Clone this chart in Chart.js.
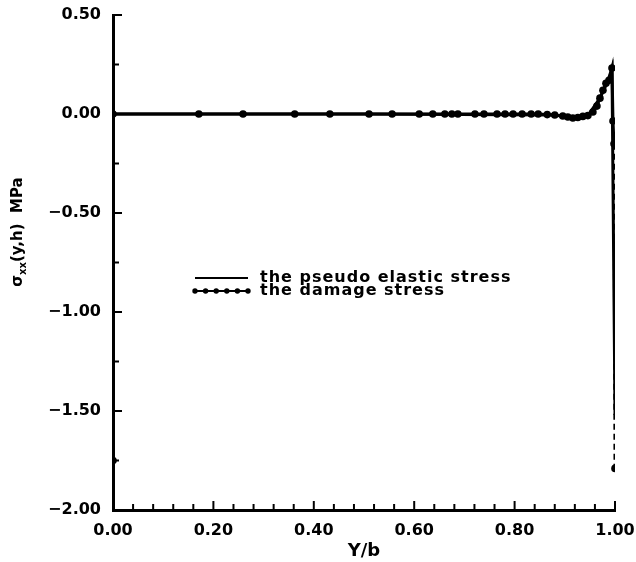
<!DOCTYPE html>
<html>
<head>
<meta charset="utf-8">
<script src="https://cdn.jsdelivr.net/npm/chart.js@4/dist/chart.umd.min.js"></script>
<style>
  html, body { margin: 0; padding: 0; background: #fff; }
  #wrap { width: 636px; height: 562px; }
</style>
</head>
<body>
<div id="wrap"><canvas id="stress-chart" width="636" height="562"></canvas></div>
<script>
// values
const elasticX = [0, 0.5, 0.88, 0.916, 0.946, 0.97, 0.985, 0.994, 1.0];
const elasticY = [0, 0, -0.005, -0.02, -0.008, 0.08, 0.16, 0.232, -1.52];

const damageX = [0, 0, 0.171, 0.259, 0.362, 0.432, 0.51, 0.556, 0.61, 0.637,
  0.661, 0.675, 0.687, 0.721, 0.739, 0.765, 0.781, 0.797, 0.815, 0.833,
  0.847, 0.865, 0.88, 0.896, 0.906, 0.916, 0.926, 0.936, 0.946, 0.956,
  0.964, 0.97, 0.976, 0.982, 0.988, 0.994, 0.996, 0.998, 1.0];
const damageY = [-1.75, 0, 0, 0, 0, 0, 0, 0, 0, 0,
  0, 0, 0, 0, 0, 0, 0, 0, 0, 0,
  0, -0.003, -0.005, -0.01, -0.015, -0.02, -0.018, -0.012, -0.008, 0.01,
  0.04, 0.08, 0.12, 0.155, 0.17, 0.232, -0.035, -0.15, -1.79];

const xTicks = [0, 0.2, 0.4, 0.6, 0.8, 1.0];
const yTicks = [0.5, 0, -0.5, -1.0, -1.5, -2.0];
const legendLabels = ["the pseudo elastic stress", "the damage stress"];

const toPoints = (xs, ys) => xs.map((x, i) => ({ x: x, y: ys[i] }));
const lastDamage = damageX.length - 1;

// inward tick marks, legend and y title drawn by hand
const decorations = {
  id: "decorations",
  afterDraw(chart) {
    const ctx = chart.ctx;
    const xs = chart.scales.x;
    const ys = chart.scales.y;
    const area = chart.chartArea;
    ctx.save();
    ctx.strokeStyle = "#000";
    ctx.lineWidth = 2;
    // x ticks every 0.04, longer every 0.2
    for (let i = 1; i <= 25; i++) {
      const px = xs.getPixelForValue(i * 0.04);
      const len = i % 5 === 0 ? 9 : 6;
      ctx.beginPath();
      ctx.moveTo(px, area.bottom);
      ctx.lineTo(px, area.bottom - len);
      ctx.stroke();
    }
    // y ticks every 0.25, longer every 0.5
    for (let i = 0; i <= 9; i++) {
      const v = 0.5 - i * 0.25;
      const py = ys.getPixelForValue(v);
      const len = i % 2 === 0 ? 9 : 6;
      ctx.beginPath();
      ctx.moveTo(area.left, py);
      ctx.lineTo(area.left + len, py);
      ctx.stroke();
    }

    // legend
    const lx0 = 195, lx1 = 248, tx = 260;
    const rows = [278, 291];
    ctx.lineWidth = 2;
    ctx.beginPath();
    ctx.moveTo(lx0, rows[0]);
    ctx.lineTo(lx1, rows[0]);
    ctx.stroke();
    ctx.beginPath();
    ctx.moveTo(lx0, rows[1]);
    ctx.lineTo(lx1, rows[1]);
    ctx.stroke();
    ctx.fillStyle = "#000";
    for (let k = 0; k < 6; k++) {
      const px = lx0 + k * (lx1 - lx0) / 5;
      ctx.beginPath();
      ctx.arc(px, rows[1], 2.7, 0, Math.PI * 2);
      ctx.fill();
    }
    ctx.font = "bold 16px 'DejaVu Sans'";
    ctx.letterSpacing = "1px";
    ctx.textBaseline = "middle";
    ctx.textAlign = "left";
    ctx.fillText(legendLabels[0], tx, rows[0]);
    ctx.fillText(legendLabels[1], tx, rows[1]);
    ctx.letterSpacing = "0px";

    // y axis title: sigma_xx(y,h) MPa
    ctx.translate(18, 232);
    ctx.rotate(-Math.PI / 2);
    ctx.textBaseline = "middle";
    const big = "bold 15px 'DejaVu Sans'";
    const small = "bold 10px 'DejaVu Sans'";
    const parts = [["σ", big, 0], ["xx", small, 5], ["(y,h)  MPa", big, 0]];
    let total = 0;
    parts.forEach((p) => { ctx.font = p[1]; total += ctx.measureText(p[0]).width; });
    let cx = -total / 2;
    parts.forEach((p) => {
      ctx.font = p[1];
      ctx.fillText(p[0], cx, p[2]);
      cx += ctx.measureText(p[0]).width;
    });
    ctx.restore();
  },
};

new Chart(document.getElementById("stress-chart"), {
  type: "scatter",
  data: {
    datasets: [
      {
        label: legendLabels[0],
        data: toPoints(elasticX, elasticY),
        showLine: true,
        borderColor: "#000",
        borderWidth: 3,
        pointRadius: 0,
        tension: 0,
      },
      {
        label: legendLabels[1],
        data: toPoints(damageX, damageY),
        showLine: true,
        borderColor: "#000",
        backgroundColor: "#000",
        borderWidth: 3,
        pointRadius: 3.8,
        pointBorderWidth: 0,
        tension: 0,
        segment: {
          borderDash: (c) => (c.p1DataIndex === lastDamage ? [6, 4] : undefined),
        },
      },
    ],
  },
  options: {
    responsive: false,
    animation: false,
    layout: { padding: { top: 15, right: 21, left: 0, bottom: 0 } },
    plugins: {
      legend: { display: false },
      tooltip: { enabled: false },
    },
    scales: {
      x: {
        type: "linear",
        min: 0,
        max: 1,
        afterBuildTicks: (s) => { s.ticks = xTicks.map((v) => ({ value: v })); },
        afterFit: (s) => {
          s.height = 52;
          s.paddingLeft = 0;
          s.paddingRight = 0;
        },
        grid: { display: false, drawTicks: false },
        border: { display: true, color: "#000", width: 3 },
        ticks: {
          color: "#000",
          font: { family: "DejaVu Sans", size: 16, weight: "bold" },
          padding: 11,
          maxRotation: 0,
          callback: (v) => Number(v).toFixed(2),
        },
        title: {
          display: true,
          text: "Y/b",
          color: "#000",
          font: { family: "DejaVu Sans", size: 18, weight: "bold" },
          padding: { top: 0, bottom: 0 },
        },
      },
      y: {
        type: "linear",
        min: -2,
        max: 0.5,
        afterBuildTicks: (s) => { s.ticks = yTicks.map((v) => ({ value: v })); },
        afterFit: (s) => {
          s.width = 113;
          s.paddingTop = 0;
          s.paddingBottom = 0;
        },
        grid: { display: false, drawTicks: false },
        border: { display: true, color: "#000", width: 3 },
        ticks: {
          color: "#000",
          font: { family: "DejaVu Sans", size: 16, weight: "bold" },
          padding: 12,
          callback: (v) => Number(v).toFixed(2).replace("-", "\u2212"),
        },
      },
    },
  },
  plugins: [decorations],
});
</script>
</body>
</html>
